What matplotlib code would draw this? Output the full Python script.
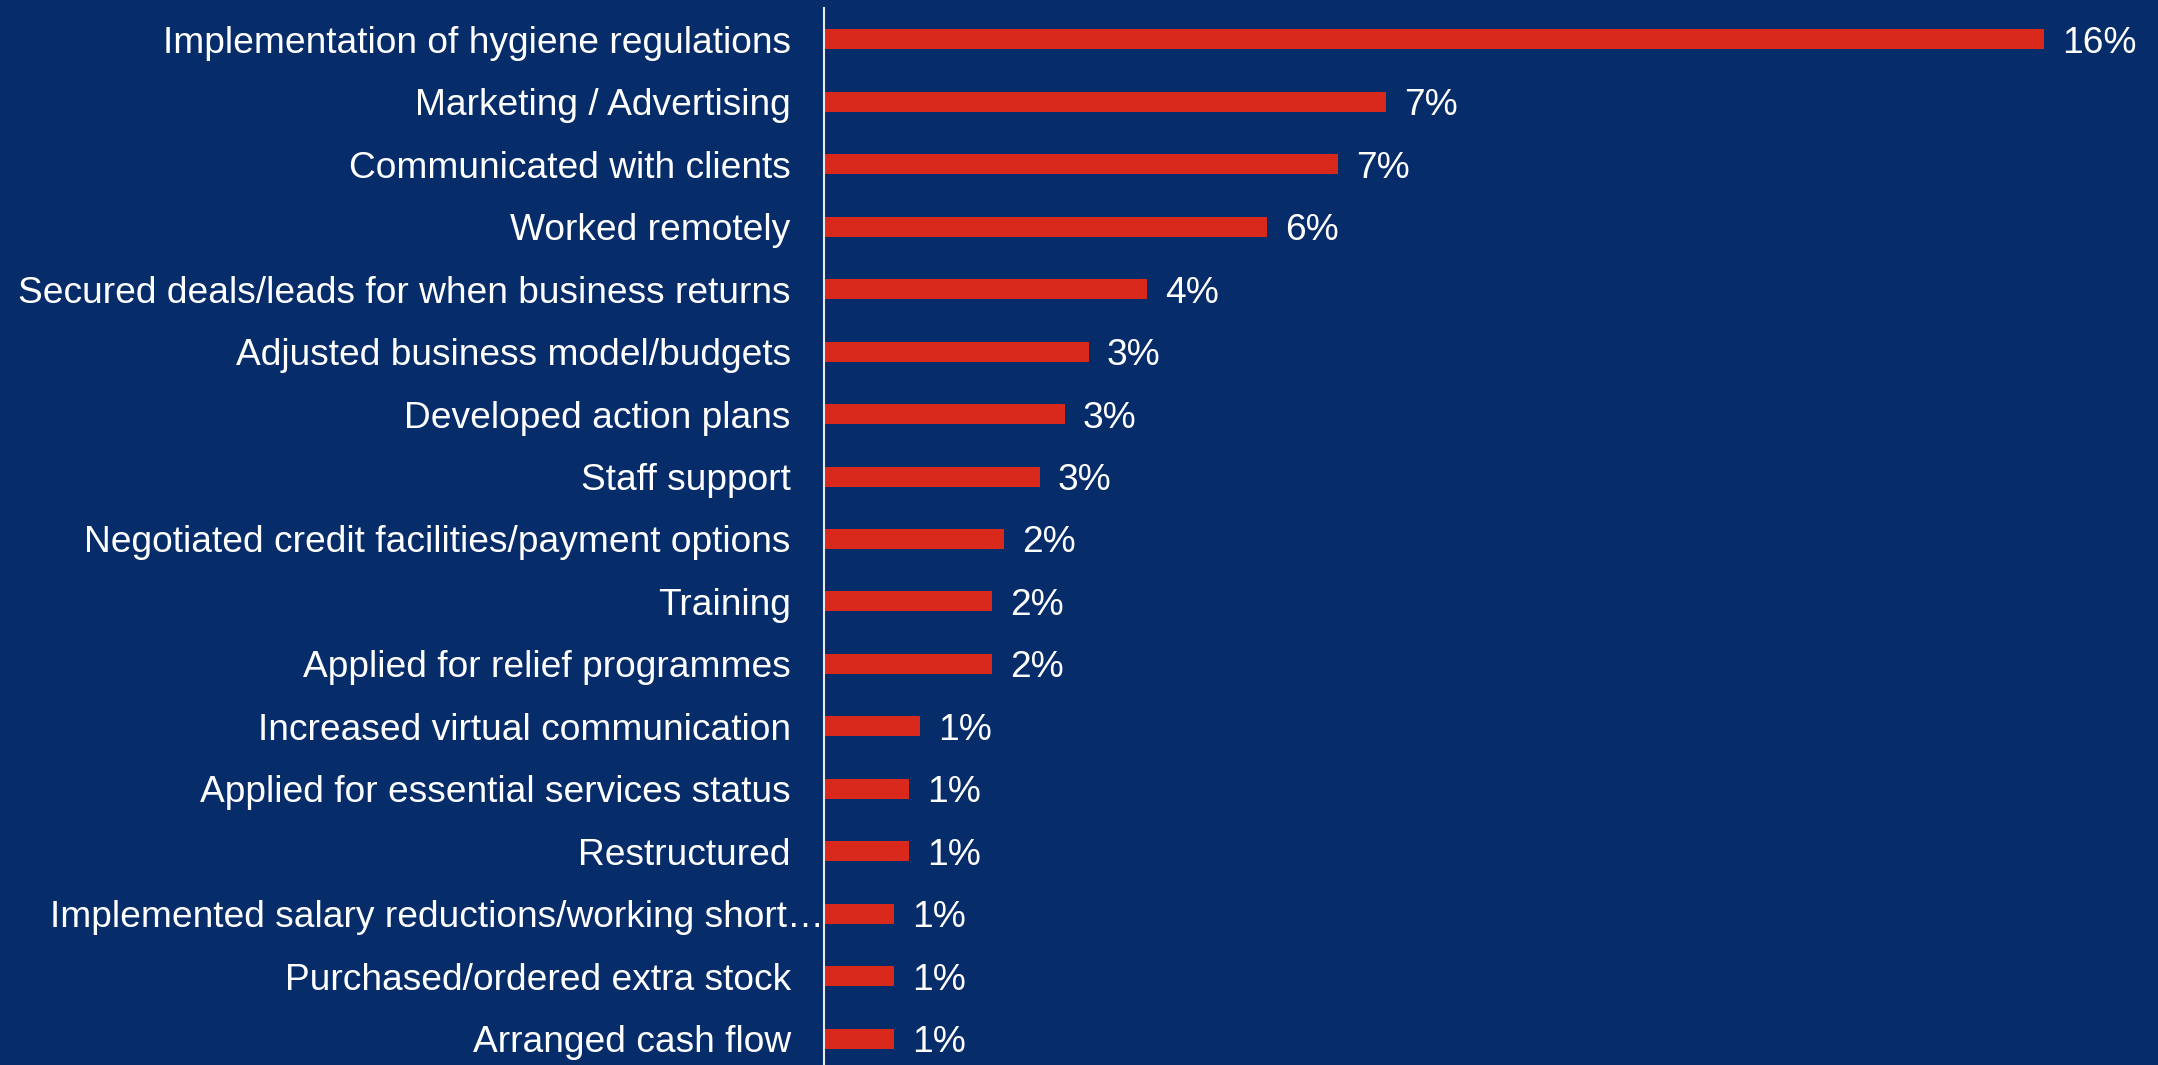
import matplotlib
matplotlib.use("Agg")
import matplotlib.pyplot as plt

categories = [
    "Implementation of hygiene regulations",
    "Marketing / Advertising",
    "Communicated with clients",
    "Worked remotely",
    "Secured deals/leads for when business returns",
    "Adjusted business model/budgets",
    "Developed action plans",
    "Staff support",
    "Negotiated credit facilities/payment options",
    "Training",
    "Applied for relief programmes",
    "Increased virtual communication",
    "Applied for essential services status",
    "Restructured",
    "Implemented salary reductions/working short\u2026",
    "Purchased/ordered extra stock",
    "Arranged cash flow",
]
values = [16.0, 7.37, 6.74, 5.81, 4.24, 3.47, 3.16, 2.83, 2.36, 2.20, 2.20,
          1.26, 1.12, 1.12, 0.92, 0.92, 0.92]

bg = "#072c6a"
red = "#d9291c"

plt.rcParams['font.family'] = ['Liberation Sans', 'DejaVu Sans']

W, H = 2158, 1065
fig = plt.figure(figsize=(W / 100, H / 100), dpi=100, facecolor=bg)
# axes from the value axis line to the right edge
left = 824 / W
ax = fig.add_axes([left, -5 / H, 1 - left, (H - 8 + 5) / H])
ax.set_facecolor(bg)

n = len(categories)
ypos = list(range(n))
ax.barh(ypos, values, height=0.32, color=red)
ax.set_ylim(n - 0.5, -0.5)
ax.set_xlim(0, 17.5)

for s in ['top', 'right', 'bottom']:
    ax.spines[s].set_visible(False)
ax.spines['left'].set_color('#e8e8e8')
ax.spines['left'].set_linewidth(1.5)
ax.set_xticks([])
ax.set_yticks([])

# category labels, right aligned to the left of the axis
for i, name in enumerate(categories):
    off = -24 if not name.endswith("\u2026") else 0
    ax.annotate(name, xy=(0, i), xycoords=('axes fraction', 'data'),
                xytext=(off, 0), textcoords='offset points',
                ha='right', va='center_baseline', color='white', fontsize=26.7)

# value labels
for i, v in enumerate(values):
    ax.annotate("%d%%" % round(v), xy=(v, i), xytext=(13, 0),
                textcoords='offset points', ha='left', va='center_baseline',
                color='white', fontsize=26.7)

fig.savefig("out.png", dpi=100, facecolor=bg)
